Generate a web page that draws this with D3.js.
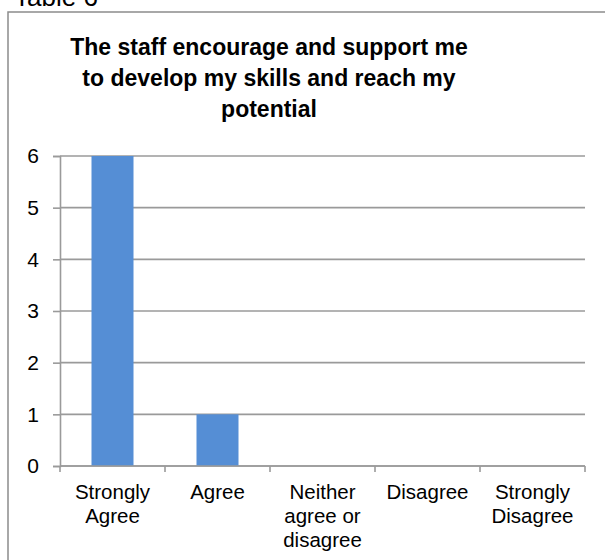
<!DOCTYPE html>
<html>
<head>
<meta charset="utf-8">
<script src="https://cdn.jsdelivr.net/npm/d3@7"></script>
<style>
  html, body { margin: 0; padding: 0; background: #fff; }
  svg { display: block; }
  text { font-family: "Liberation Sans", Arial, Helvetica, sans-serif; fill: #000; }
</style>
</head>
<body>
<svg id="chart" width="605" height="560"></svg>
<script>
// Survey responses
const categories = ["Strongly Agree", "Agree", "Neither agree or disagree", "Disagree", "Strongly Disagree"];
const categoryLines = [["Strongly", "Agree"], ["Agree"], ["Neither", "agree or", "disagree"], ["Disagree"], ["Strongly", "Disagree"]];
const counts = [6, 1, 0, 0, 0];
const yTicks = [0, 1, 2, 3, 4, 5, 6];
const titleLines = ["The staff encourage and support me", "to develop my skills and reach my", "potential"];
const caption = "Table 6";

const svg = d3.select("#chart");

// caption above the frame
svg.append("text")
  .attr("x", 14).attr("y", 5.5)
  .style("font-size", "26px")
  .text(caption);

// chart frame
svg.append("rect")
  .attr("x", 8).attr("y", 12)
  .attr("width", 610).attr("height", 560)
  .attr("fill", "#fff")
  .attr("stroke", "#8c8c8c")
  .attr("stroke-width", 1.5);

// title
const title = svg.append("text")
  .attr("text-anchor", "middle")
  .style("font-size", "23px")
  .style("font-weight", "bold");
titleLines.forEach((t, i) => {
  title.append("tspan").attr("x", 269).attr("y", 55 + i * 31).text(t);
});

const x = d3.scaleBand()
  .domain(categories)
  .range([60, 585])
  .paddingInner(0.6)
  .paddingOuter(0.3);

const y = d3.scaleLinear().domain([0, 6]).range([466, 156]);

// horizontal gridlines
svg.append("g")
  .selectAll("line")
  .data(yTicks)
  .join("line")
  .attr("x1", 60).attr("x2", 585)
  .attr("y1", d => y(d)).attr("y2", d => y(d))
  .attr("stroke", "#9a9a9a")
  .attr("stroke-width", 1.6);

// y axis
const yAxis = svg.append("g")
  .attr("transform", "translate(60,0)")
  .call(d3.axisLeft(y).tickValues(yTicks).tickFormat(d3.format("d")).tickSize(7).tickPadding(14));
yAxis.attr("font-family", null).attr("font-size", null);
yAxis.select(".domain").attr("stroke", "#9a9a9a").attr("stroke-width", 1.6);
yAxis.selectAll(".tick line").attr("stroke", "#9a9a9a").attr("stroke-width", 1.6);
yAxis.selectAll(".tick text")
  .style("font-size", "21px")
  .attr("fill", "#000");

// bars
svg.append("g")
  .selectAll("rect")
  .data(counts)
  .join("rect")
  .attr("x", (d, i) => x(categories[i]))
  .attr("y", d => y(d))
  .attr("width", x.bandwidth())
  .attr("height", d => y(0) - y(d))
  .attr("fill", "#558ed5");

// x axis baseline and category boundary ticks
const step = x.step();
const bounds = d3.range(categories.length + 1).map(i => 60 + i * step);
const xg = svg.append("g");
xg.append("line")
  .attr("x1", 60).attr("x2", 585)
  .attr("y1", y(0)).attr("y2", y(0))
  .attr("stroke", "#9a9a9a").attr("stroke-width", 1.6);
xg.selectAll("line.tick")
  .data(bounds)
  .join("line")
  .attr("class", "tick")
  .attr("x1", d => d).attr("x2", d => d)
  .attr("y1", y(0)).attr("y2", y(0) + 6)
  .attr("stroke", "#9a9a9a").attr("stroke-width", 1.6);

// category labels
categories.forEach((c, i) => {
  const cx = x(c) + x.bandwidth() / 2;
  const t = svg.append("text")
    .attr("text-anchor", "middle")
    .style("font-size", "20.5px");
  categoryLines[i].forEach((line, j) => {
    t.append("tspan").attr("x", cx).attr("y", 499 + j * 24).text(line);
  });
});
</script>
</body>
</html>
